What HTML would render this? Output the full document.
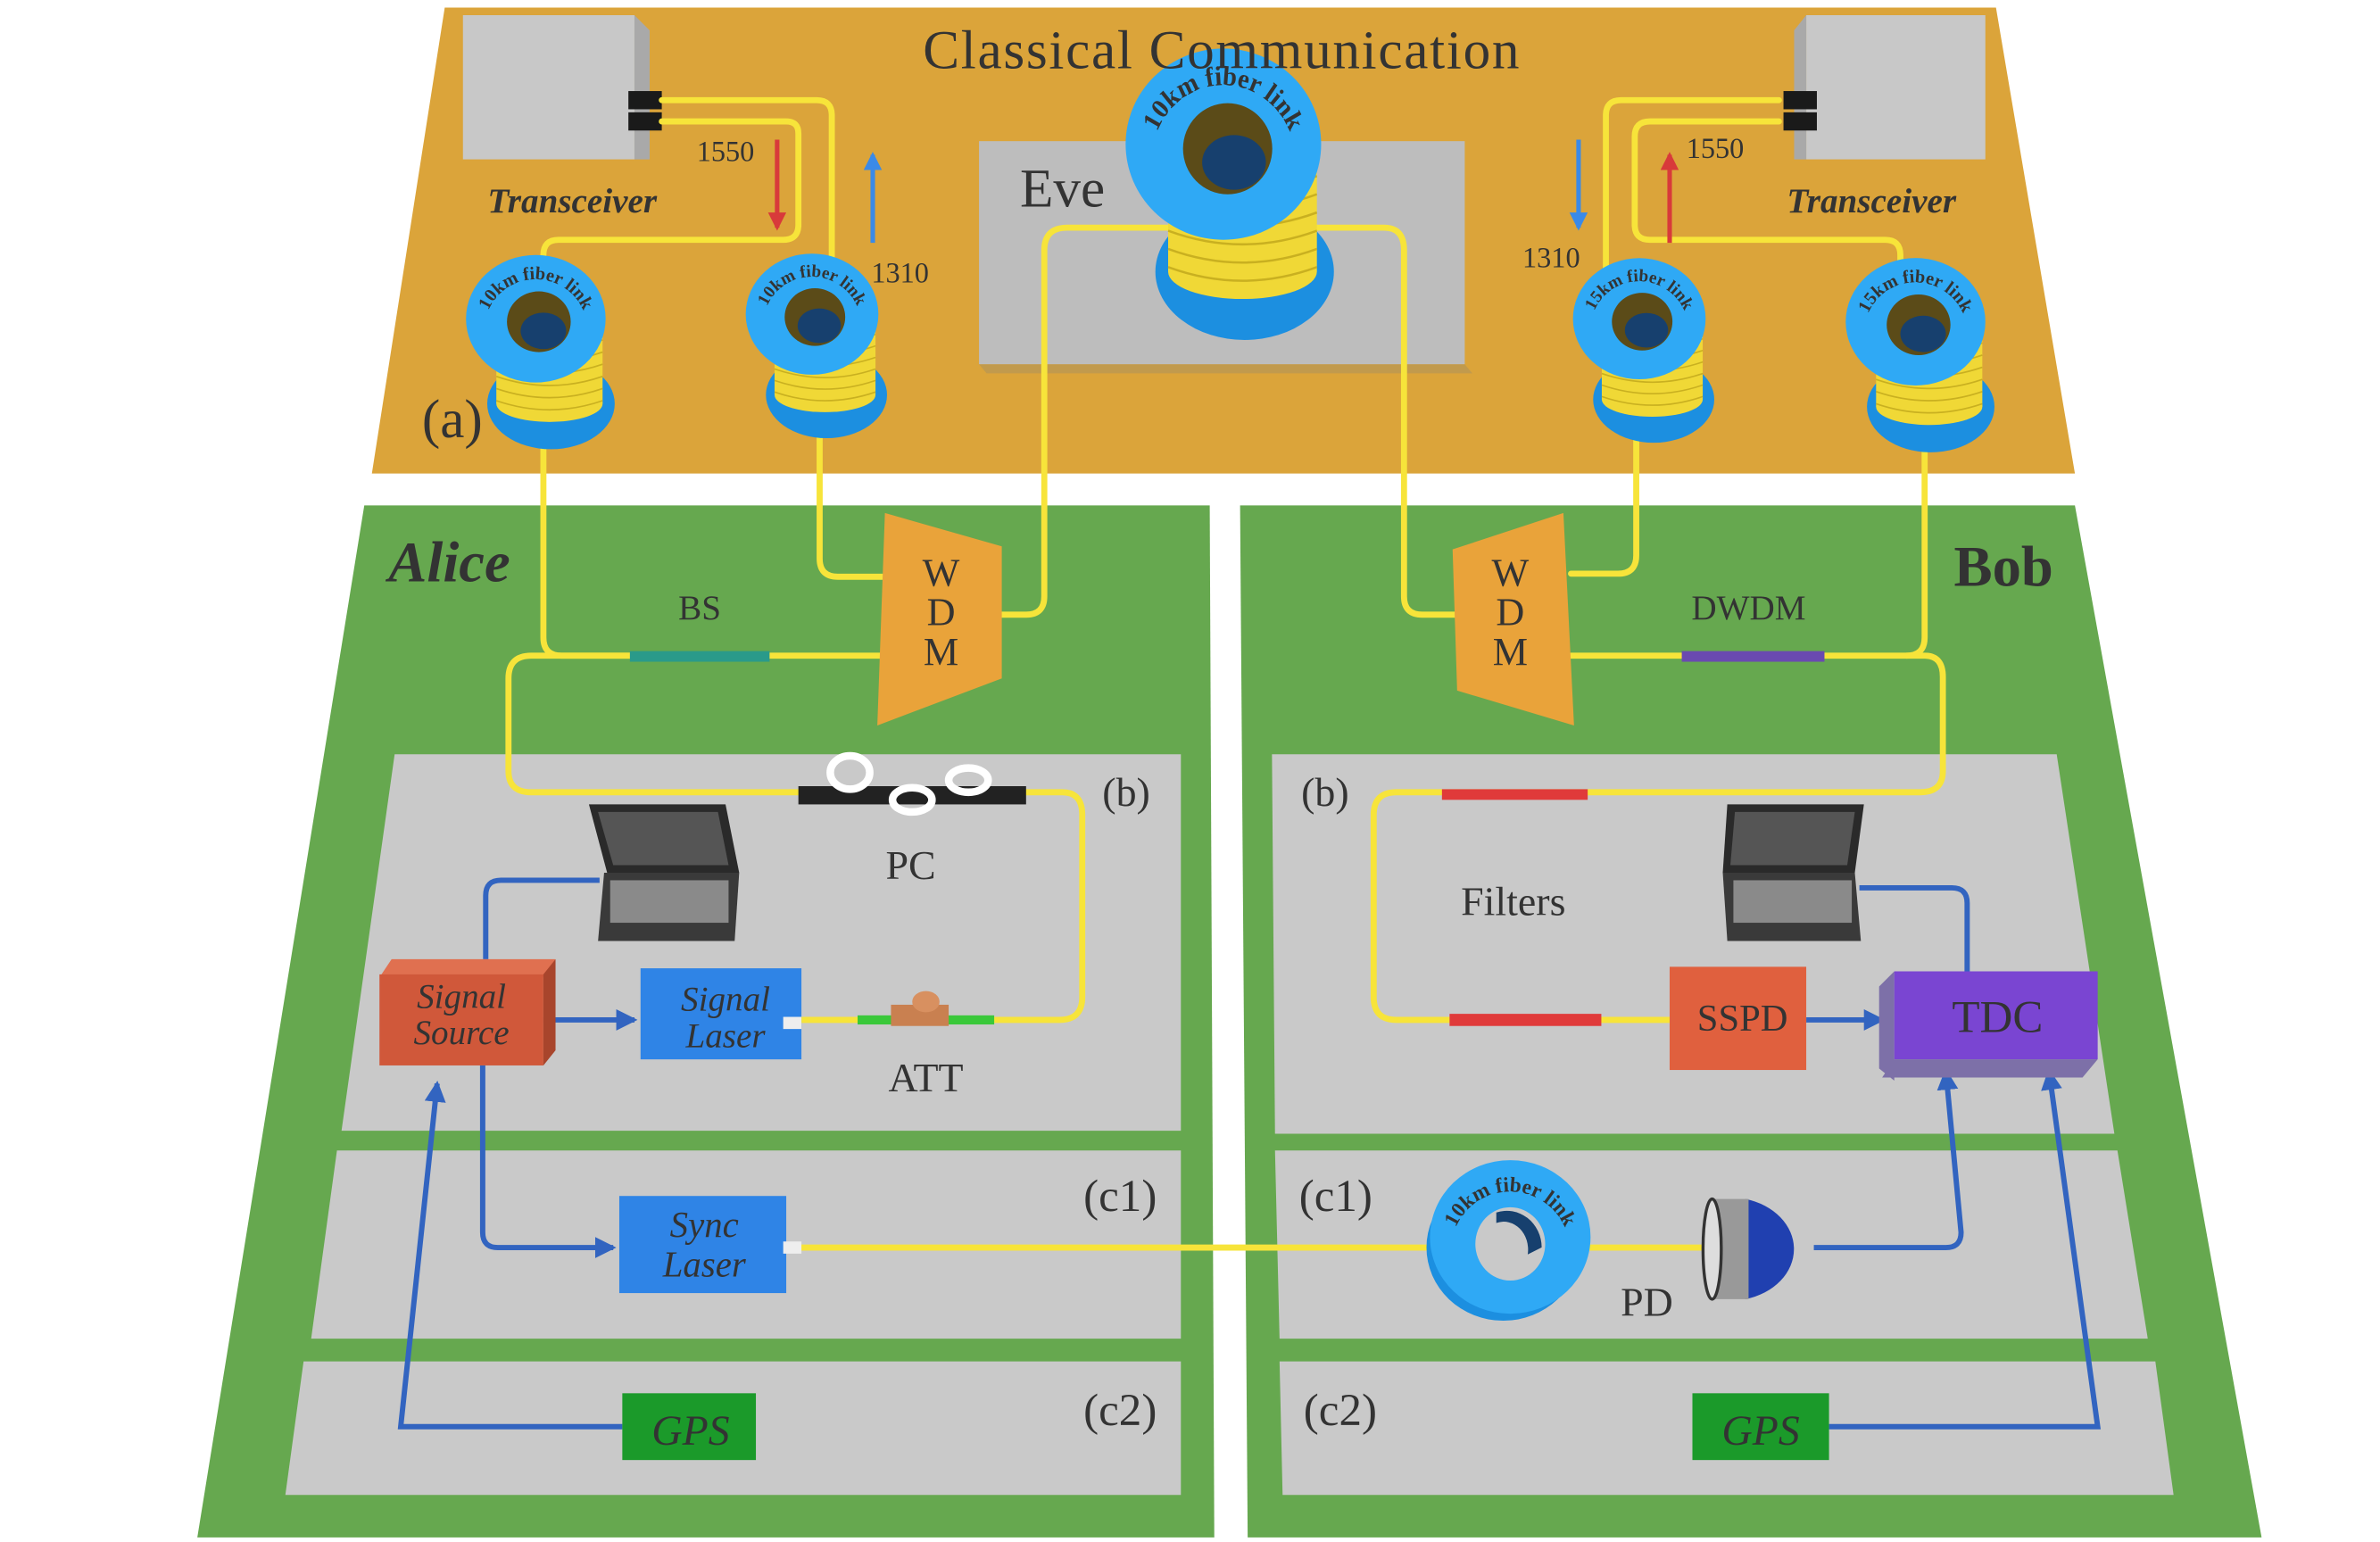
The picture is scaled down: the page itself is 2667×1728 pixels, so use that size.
<!DOCTYPE html>
<html><head><meta charset="utf-8"><style>
html,body{margin:0;padding:0;background:#fff;}
svg{display:block;}
text{font-family:"Liberation Serif",serif;fill:#333;}
</style></head><body>
<svg width="2667" height="1728" viewBox="0 0 1568 1016" preserveAspectRatio="none" xmlns="http://www.w3.org/2000/svg">
<defs>
<symbol id="sp" overflow="visible">
  <ellipse cx="10" cy="56" rx="42" ry="30" fill="#1c8fe0"/>
  <rect x="-26" y="4" width="70" height="52" fill="#f0d836"/>
  <ellipse cx="9" cy="56" rx="35" ry="12" fill="#f0d836"/>
  <g stroke="#c9b020" stroke-width="1" fill="none">
    <path d="M-26,14 Q9,26 44,14"/><path d="M-26,22 Q9,34 44,22"/><path d="M-26,30 Q9,42 44,30"/><path d="M-26,38 Q9,50 44,38"/><path d="M-26,46 Q9,58 44,46"/><path d="M-26,54 Q9,66 44,54"/>
  </g>
  <ellipse cx="0" cy="0" rx="46" ry="42" fill="#2fa9f5"/>
  <ellipse cx="2" cy="2" rx="21" ry="20" fill="#5b4b18"/>
  <ellipse cx="5" cy="8" rx="15" ry="12" fill="#17406e"/>
</symbol>
<path id="arc" d="M-34,8 A34,34 0 0 1 34,8"/>
<marker id="ab2" markerWidth="14" markerHeight="14" refX="12" refY="7" orient="auto" markerUnits="userSpaceOnUse"><path d="M0,0 L14,7 L0,14 Z" fill="#3264c0"/></marker>
<marker id="ar" markerWidth="12" markerHeight="12" refX="10" refY="6" orient="auto" markerUnits="userSpaceOnUse"><path d="M0,0 L12,6 L0,12 Z" fill="#d83a3a"/></marker>
<marker id="au" markerWidth="12" markerHeight="12" refX="10" refY="6" orient="auto" markerUnits="userSpaceOnUse"><path d="M0,0 L12,6 L0,12 Z" fill="#3a8ae8"/></marker>
</defs>

<polygon points="293,5 1315,5 1367,312 245,312" fill="#dba43a"/>
<rect x="645" y="93" width="320" height="147" fill="#bdbdbd"/>
<polygon points="645,240 965,240 970,246 650,246" fill="#a89060" opacity="0.5"/>

<polygon points="240,333 797,333 800,1013 130,1013" fill="#66a84f"/>
<polygon points="817,333 1367,333 1490,1013 822,1013" fill="#66a84f"/>

<polygon points="260,497 778,497 778,745 225,745" fill="#c9c9c9"/>
<polygon points="222,758 778,758 778,882 205,882" fill="#c9c9c9"/>
<polygon points="200,897 778,897 778,985 188,985" fill="#c9c9c9"/>
<polygon points="838,497 1355,497 1393,747 840,747" fill="#c9c9c9"/>
<polygon points="840,758 1395,758 1415,882 843,882" fill="#c9c9c9"/>
<polygon points="843,897 1420,897 1432,985 845,985" fill="#c9c9c9"/>

<rect x="305" y="10" width="113" height="95" fill="#c8c8c8"/>
<polygon points="418,10 428,20 428,105 418,105" fill="#a9a9a9"/>
<rect x="414" y="60" width="22" height="12" fill="#1a1a1a"/><rect x="414" y="74" width="22" height="12" fill="#1a1a1a"/>
<rect x="1190" y="10" width="118" height="95" fill="#c8c8c8"/>
<polygon points="1190,10 1182,20 1182,105 1190,105" fill="#a9a9a9"/>
<rect x="1175" y="60" width="22" height="12" fill="#1a1a1a"/><rect x="1175" y="74" width="22" height="12" fill="#1a1a1a"/>

<g fill="none" stroke="#f7e43a" stroke-width="4" stroke-linecap="round">
<path d="M436,66 H538 Q548,66 548,76 V185"/>
<path d="M436,80 H518 Q526,80 526,88 V148 Q526,158 516,158 H368 Q358,158 358,168 V185"/>
<path d="M358,262 V420 Q358,432 370,432 H585"/>
<path d="M540,262 V368 Q540,380 552,380 H588"/>
<path d="M415,432 H350 Q335,432 335,447 V508 Q335,522 350,522 H700 Q713,522 713,537 V657 Q713,672 698,672 H528"/>
<path d="M655,405 H676 Q688,405 688,393 V165 Q688,150 703,150 H912 Q925,150 925,165 V393 Q925,405 937,405 H960"/>
<path d="M1172,66 H1068 Q1058,66 1058,76 V185"/>
<path d="M1172,80 H1087 Q1077,80 1077,90 V148 Q1077,158 1087,158 H1242 Q1252,158 1252,168 V190"/>
<path d="M1035,378 H1066 Q1078,378 1078,366 V262"/>
<path d="M1035,432 H1256 Q1268,432 1268,420 V270"/>
<path d="M1256,432 H1268 Q1280,432 1280,446 V508 Q1280,522 1265,522 H920 Q905,522 905,537 V657 Q905,672 920,672 H1105"/>
<path d="M522,822 H1125"/>
</g>

<g transform="translate(353,210)"><use href="#sp"/><text font-size="12" font-weight="bold" fill="#1a3a6a"><textPath href="#arc" startOffset="50%" text-anchor="middle">10km fiber link</textPath></text></g>
<g transform="translate(535,207) scale(0.95)"><use href="#sp"/><text font-size="12" font-weight="bold" fill="#1a3a6a"><textPath href="#arc" startOffset="50%" text-anchor="middle">10km fiber link</textPath></text></g>
<g transform="translate(1080,210) scale(0.95)"><use href="#sp"/><text font-size="12" font-weight="bold" fill="#1a3a6a"><textPath href="#arc" startOffset="50%" text-anchor="middle">15km fiber link</textPath></text></g>
<g transform="translate(1262,212)"><use href="#sp"/><text font-size="12" font-weight="bold" fill="#1a3a6a"><textPath href="#arc" startOffset="50%" text-anchor="middle">15km fiber link</textPath></text></g>
<g transform="translate(806,95) scale(1.4,1.5)"><use href="#sp"/><text font-size="12" font-weight="bold" fill="#1a3a6a"><textPath href="#arc" startOffset="50%" text-anchor="middle">10km fiber link</textPath></text></g>
<g transform="translate(995,815) scale(1.15)">
  <ellipse cx="-4" cy="6" rx="44" ry="42" fill="#1c8fe0"/>
  <ellipse cx="0" cy="0" rx="46" ry="44" fill="#2fa9f5"/>
  <ellipse cx="0" cy="4" rx="20" ry="21" fill="#c9c9c9"/>
  <path d="M-8,-14 A20,21 0 0 1 18,6 L10,10 A14,16 0 0 0 -8,-8 Z" fill="#17406e"/>
  <text font-size="12" font-weight="bold" fill="#1a3a6a"><textPath href="#arc" startOffset="50%" text-anchor="middle">10km fiber link</textPath></text>
</g>

<polygon points="583,338 660,360 660,447 578,478" fill="#e9a33a"/>
<polygon points="957,362 1030,338 1037,478 960,455" fill="#e9a33a"/>
<text x="620" y="386" font-size="26" text-anchor="middle">W</text><text x="620" y="412" font-size="26" text-anchor="middle">D</text><text x="620" y="438" font-size="26" text-anchor="middle">M</text>
<text x="995" y="386" font-size="26" text-anchor="middle">W</text><text x="995" y="412" font-size="26" text-anchor="middle">D</text><text x="995" y="438" font-size="26" text-anchor="middle">M</text>

<rect x="415" y="429" width="92" height="7" fill="#2a9a8a"/>
<rect x="1108" y="429" width="94" height="7" fill="#6a4ab0"/>
<rect x="950" y="520" width="96" height="7" fill="#e03a3a"/>
<rect x="955" y="668" width="100" height="8" fill="#e03a3a"/>
<rect x="565" y="669" width="90" height="6" fill="#3ac83a"/>
<rect x="587" y="662" width="38" height="14" fill="#c98050"/><ellipse cx="610" cy="660" rx="9" ry="7" fill="#d89060"/>
<rect x="526" y="518" width="150" height="12" fill="#222"/>
<ellipse cx="560" cy="509" rx="13" ry="11" fill="none" stroke="#fff" stroke-width="5"/>
<ellipse cx="601" cy="527" rx="13" ry="8" fill="none" stroke="#fff" stroke-width="5"/>
<ellipse cx="638" cy="514" rx="13" ry="8" fill="none" stroke="#fff" stroke-width="5"/>

<g fill="none" stroke="#3264c0" stroke-width="3.5">
<path d="M395,580 H330 Q320,580 320,590 V632"/>
<path d="M358,672 H418" marker-end="url(#ab2)"/>
<path d="M318,702 V812 Q318,822 328,822 H404" marker-end="url(#ab2)"/>
<path d="M410,940 H264 L288,714" marker-end="url(#ab2)"/>
<path d="M1225,585 H1286 Q1296,585 1296,595 V640"/>
<path d="M1190,672 H1240" marker-end="url(#ab2)"/>
<path d="M1195,822 H1282 Q1292,822 1292,812 L1282,706" marker-end="url(#ab2)"/>
<path d="M1205,940 H1382 L1350,706" marker-end="url(#ab2)"/>
</g>

<line x1="512" y1="92" x2="512" y2="150" stroke="#d83a3a" stroke-width="3" marker-end="url(#ar)"/>
<line x1="575" y1="160" x2="575" y2="102" stroke="#3a8ae8" stroke-width="3" marker-end="url(#au)"/>
<line x1="1040" y1="92" x2="1040" y2="150" stroke="#3a8ae8" stroke-width="3" marker-end="url(#au)"/>
<line x1="1100" y1="160" x2="1100" y2="102" stroke="#d83a3a" stroke-width="3" marker-end="url(#ar)"/>

<polygon points="258,632 366,632 358,644 250,644" fill="#e07050"/>
<rect x="250" y="642" width="108" height="60" fill="#d0583a"/>
<polygon points="358,642 366,632 366,692 358,702" fill="#a8452c"/>
<rect x="422" y="638" width="106" height="60" fill="#2f84e6"/>
<rect x="408" y="788" width="110" height="64" fill="#2f84e6"/>
<rect x="516" y="670" width="12" height="8" fill="#eee"/><rect x="516" y="818" width="12" height="8" fill="#eee"/>
<rect x="410" y="918" width="88" height="44" fill="#1b9a2a"/>
<rect x="1115" y="918" width="90" height="44" fill="#1b9a2a"/>
<rect x="1100" y="637" width="90" height="68" fill="#e0603e"/>
<polygon points="1238,650 1248,640 1248,712 1238,704" fill="#7d70a8"/>
<rect x="1248" y="640" width="134" height="58" fill="#7a45d2"/>
<polygon points="1248,698 1382,698 1372,710 1240,710" fill="#7d70a8"/>

<polygon points="388,530 478,530 487,575 400,575" fill="#2a2a2a"/><polygon points="394,535 473,535 480,570 404,570" fill="#555"/>
<polygon points="398,575 487,575 484,620 394,620" fill="#3a3a3a"/><rect x="402" y="580" width="78" height="28" fill="#8a8a8a"/>
<polygon points="1138,530 1228,530 1222,575 1135,575" fill="#2a2a2a"/><polygon points="1143,535 1222,535 1217,570 1140,570" fill="#555"/>
<polygon points="1135,575 1222,575 1226,620 1138,620" fill="#3a3a3a"/><rect x="1142" y="580" width="78" height="28" fill="#8a8a8a"/>

<path d="M1150,790 A42,34 0 0 1 1150,856 Z" fill="#2040b0"/>
<rect x="1128" y="790" width="24" height="66" fill="#999"/>
<ellipse cx="1128" cy="823" rx="6" ry="33" fill="#ddd" stroke="#333" stroke-width="2"/>

<text x="805" y="45" font-size="36" text-anchor="middle" letter-spacing="1">Classical  Communication</text>
<text x="377" y="140" font-size="23" font-weight="bold" font-style="italic" text-anchor="middle">Transceiver</text>
<text x="1233" y="140" font-size="23" font-weight="bold" font-style="italic" text-anchor="middle">Transceiver</text>
<text x="478" y="106" font-size="19" text-anchor="middle">1550</text>
<text x="593" y="186" font-size="19" text-anchor="middle">1310</text>
<text x="1022" y="176" font-size="19" text-anchor="middle">1310</text>
<text x="1130" y="104" font-size="19" text-anchor="middle">1550</text>
<text x="700" y="136" font-size="36" text-anchor="middle">Eve</text>
<text x="298" y="288" font-size="36" text-anchor="middle">(a)</text>
<text x="296" y="383" font-size="38" font-weight="bold" font-style="italic" text-anchor="middle">Alice</text>
<text x="1320" y="386" font-size="38" font-weight="bold" text-anchor="middle">Bob</text>
<text x="461" y="408" font-size="23" text-anchor="middle">BS</text>
<text x="1152" y="408" font-size="23" text-anchor="middle">DWDM</text>
<text x="742" y="531" font-size="27" text-anchor="middle">(b)</text>
<text x="873" y="531" font-size="27" text-anchor="middle">(b)</text>
<text x="600" y="579" font-size="27" text-anchor="middle">PC</text>
<text x="610" y="719" font-size="27" text-anchor="middle">ATT</text>
<text x="997" y="603" font-size="27" text-anchor="middle">Filters</text>
<text x="738" y="798" font-size="30" text-anchor="middle">(c1)</text>
<text x="880" y="798" font-size="30" text-anchor="middle">(c1)</text>
<text x="738" y="939" font-size="30" text-anchor="middle">(c2)</text>
<text x="883" y="939" font-size="30" text-anchor="middle">(c2)</text>
<text x="1085" y="867" font-size="27" text-anchor="middle">PD</text>
<text x="304" y="664" font-size="23" font-style="italic" text-anchor="middle">Signal</text>
<text x="304" y="688" font-size="23" font-style="italic" text-anchor="middle">Source</text>
<text x="478" y="666" font-size="23" font-style="italic" text-anchor="middle">Signal</text>
<text x="478" y="690" font-size="23" font-style="italic" text-anchor="middle">Laser</text>
<text x="464" y="815" font-size="24" font-style="italic" text-anchor="middle">Sync</text>
<text x="464" y="841" font-size="24" font-style="italic" text-anchor="middle">Laser</text>
<text x="455" y="952" font-size="28" font-style="italic" text-anchor="middle">GPS</text>
<text x="1160" y="952" font-size="28" font-style="italic" text-anchor="middle">GPS</text>
<text x="1148" y="679" font-size="25" text-anchor="middle">SSPD</text>
<text x="1316" y="680" font-size="30" text-anchor="middle">TDC</text>
</svg>
</body></html>
